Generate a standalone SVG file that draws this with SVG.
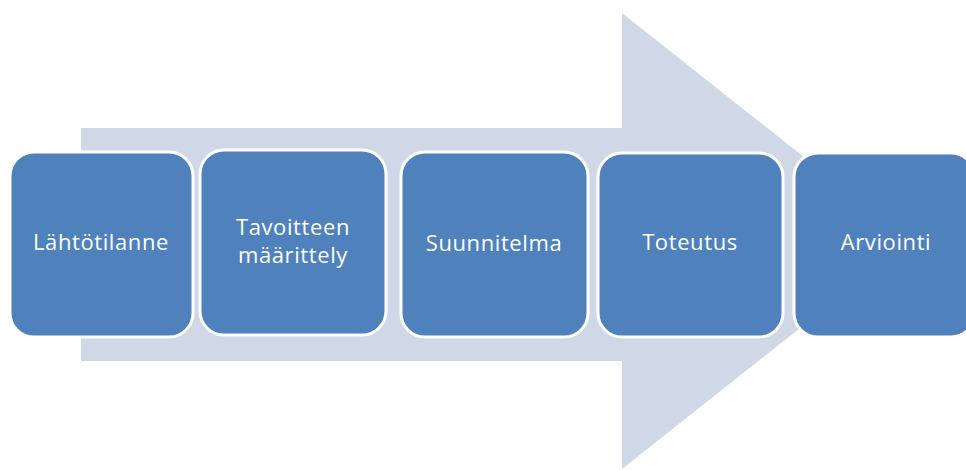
<svg xmlns="http://www.w3.org/2000/svg" width="966" height="470" viewBox="0 0 966 470">
<style>
.box{fill:#4F81BD;stroke:#FFFFFF;stroke-width:3}
.lbl{font-family:"Open Sans","Liberation Sans",sans-serif;font-size:22px;letter-spacing:0.6px;fill:#FFFFFF;text-anchor:middle}
</style>
<rect width="966" height="470" fill="#FFFFFF"/>
<g id="arrow">
<polygon points="81,128 622,128 622,13 910,241 622,469 622,361 81,361" fill="#D0D8E8"/>
</g>
<g id="connectors"></g>
<g id="n1"><rect class="box" x="10" y="152" width="183" height="185" rx="24"/><text class="lbl" x="101" y="250">Lähtötilanne</text></g>
<g id="n2"><rect class="box" x="200" y="150" width="186" height="185" rx="24"/><text class="lbl" x="293" y="235">Tavoitteen</text><text class="lbl" x="293" y="263">määrittely</text></g>
<g id="n3"><rect class="box" x="401" y="152" width="187" height="185" rx="24"/><text class="lbl" x="494" y="251">Suunnitelma</text></g>
<g id="n4"><rect class="box" x="598" y="153" width="185" height="184" rx="24"/><text class="lbl" x="690" y="250">Toteutus</text></g>
<g id="n5"><rect class="box" x="794" y="153" width="181" height="184" rx="24"/><text class="lbl" x="886" y="250">Arviointi</text></g>
</svg>
